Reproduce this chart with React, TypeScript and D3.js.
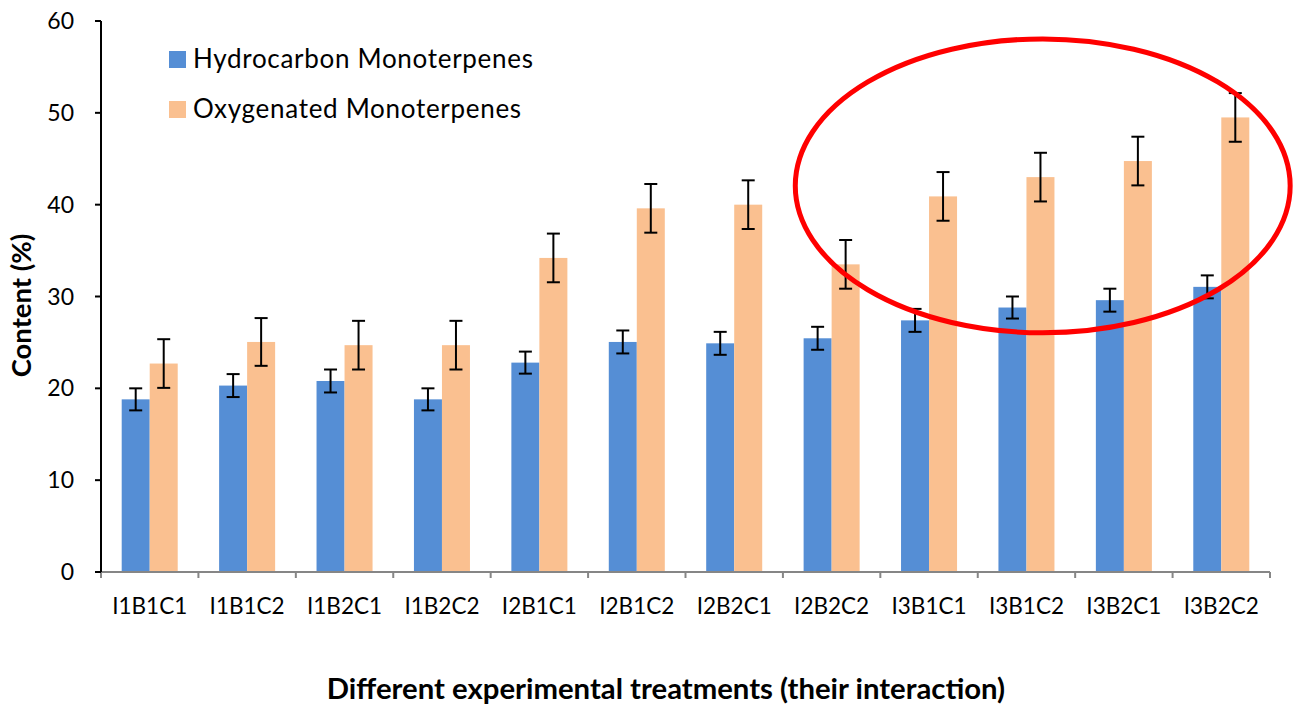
import React, { useEffect, useRef } from 'react';
import * as d3 from 'd3';

const categories = ['I1B1C1', 'I1B1C2', 'I1B2C1', 'I1B2C2', 'I2B1C1', 'I2B1C2', 'I2B2C1', 'I2B2C2', 'I3B1C1', 'I3B1C2', 'I3B2C1', 'I3B2C2'];
const seriesNames = ['Hydrocarbon Monoterpenes', 'Oxygenated Monoterpenes'];
const hydrocarbon = [18.8, 20.3, 20.8, 18.8, 22.8, 25.05, 24.9, 25.45, 27.4, 28.8, 29.6, 31.05];
const hydrocarbonErr = [1.2, 1.25, 1.25, 1.2, 1.2, 1.25, 1.25, 1.25, 1.25, 1.2, 1.25, 1.25];
const oxygenated = [22.7, 25.05, 24.7, 24.7, 34.2, 39.6, 40.0, 33.5, 40.9, 43.0, 44.75, 49.5];
const oxygenatedErr = [2.65, 2.6, 2.65, 2.65, 2.65, 2.65, 2.65, 2.65, 2.65, 2.65, 2.65, 2.65];
const yTicks = [0, 10, 20, 30, 40, 50, 60];
const colors = ['#558ED5', '#FAC090'];

const FONT = 'Lato, "Open Sans", sans-serif';

const App: React.FC = () => {
  const ref = useRef<SVGSVGElement | null>(null);

  useEffect(() => {
    document.body.style.margin = '0';
    if (!ref.current) return;
    const svg = d3.select(ref.current);
    svg.selectAll('*').remove();

    const left = 101, right = 1270, top = 21, bottom = 572;

    const x = d3.scaleBand<string>().domain(categories).range([left, right]).padding(0);
    const bw = x.bandwidth();
    const x1 = d3.scaleBand<string>().domain(seriesNames).range([bw * 0.2125, bw * 0.7875]).padding(0);
    const y = d3.scaleLinear().domain([0, 60]).range([bottom, top]);

    const rows = categories.map((c, i) => ({
      cat: c,
      vals: [
        { s: seriesNames[0], v: hydrocarbon[i], e: hydrocarbonErr[i], color: colors[0] },
        { s: seriesNames[1], v: oxygenated[i], e: oxygenatedErr[i], color: colors[1] },
      ],
    }));

    // bars
    const g = svg.append('g');
    const groups = g.selectAll('g.grp').data(rows).join('g')
      .attr('transform', d => `translate(${x(d.cat)},0)`);
    groups.selectAll('rect').data(d => d.vals).join('rect')
      .attr('x', d => x1(d.s)!)
      .attr('y', d => y(d.v))
      .attr('width', x1.bandwidth())
      .attr('height', d => y(0) - y(d.v))
      .attr('fill', d => d.color);

    // error bars
    const eb = groups.selectAll('g.err').data(d => d.vals).join('g')
      .attr('stroke', '#000').attr('stroke-width', 2);
    const cx = (d: any) => x1(d.s)! + x1.bandwidth() / 2;
    eb.append('line')
      .attr('x1', cx).attr('x2', cx)
      .attr('y1', d => y(d.v + d.e)).attr('y2', d => y(d.v - d.e));
    eb.append('line')
      .attr('x1', d => cx(d) - 6.5).attr('x2', d => cx(d) + 6.5)
      .attr('y1', d => y(d.v + d.e)).attr('y2', d => y(d.v + d.e));
    eb.append('line')
      .attr('x1', d => cx(d) - 6.5).attr('x2', d => cx(d) + 6.5)
      .attr('y1', d => y(d.v - d.e)).attr('y2', d => y(d.v - d.e));

    // x axis
    const xa = svg.append('g');
    xa.append('line').attr('x1', left).attr('x2', right).attr('y1', bottom).attr('y2', bottom)
      .attr('stroke', '#868686').attr('stroke-width', 2);
    const bounds = [...categories.map(c => x(c)!), right];
    xa.selectAll('line.tk').data(bounds).join('line').attr('class', 'tk')
      .attr('x1', d => d).attr('x2', d => d).attr('y1', bottom).attr('y2', bottom + 6)
      .attr('stroke', '#868686').attr('stroke-width', 2);
    xa.selectAll('text').data(categories).join('text')
      .attr('x', d => x(d)! + bw / 2).attr('y', 614)
      .attr('text-anchor', 'middle')
      .attr('font-family', FONT).attr('font-size', 22.5).attr('fill', '#000')
      .text(d => d);

    // y axis
    const ya = svg.append('g');
    ya.append('line').attr('x1', left).attr('x2', left).attr('y1', top).attr('y2', bottom)
      .attr('stroke', '#000').attr('stroke-width', 2);
    ya.selectAll('line.tk').data(yTicks).join('line').attr('class', 'tk')
      .attr('x1', left - 6).attr('x2', left).attr('y1', d => y(d)).attr('y2', d => y(d))
      .attr('stroke', '#000').attr('stroke-width', 2);
    ya.selectAll('text').data(yTicks).join('text')
      .attr('x', 74).attr('y', d => y(d) + 8)
      .attr('text-anchor', 'end')
      .attr('font-family', FONT).attr('font-size', 23).attr('fill', '#000')
      .text(d => d);

    // axis titles
    svg.append('text')
      .attr('transform', `translate(31,${(top + bottom) / 2 + 9}) rotate(-90)`)
      .attr('text-anchor', 'middle')
      .attr('font-family', FONT).attr('font-size', 27.5).attr('font-weight', 'bold')
      .text('Content (%)');
    svg.append('text')
      .attr('x', 666).attr('y', 699)
      .attr('text-anchor', 'middle')
      .attr('font-family', FONT).attr('font-size', 29.3).attr('font-weight', 'bold')
      .text('Different experimental treatments (their interaction)');

    // legend
    const lg = svg.append('g');
    seriesNames.forEach((s, i) => {
      const ly = 59.5 + i * 50;
      lg.append('rect').attr('x', 169).attr('y', ly - 8.5).attr('width', 17).attr('height', 17).attr('fill', colors[i]);
      lg.append('text').attr('x', 193).attr('y', ly + 8.5)
        .attr('font-family', FONT).attr('font-size', 26).attr('letter-spacing', 0.7).text(s);
    });

    // red highlight ellipse around I3 treatments
    const ex = x('I3B1C2')! + bw * 0.667;
    svg.append('ellipse')
      .attr('cx', ex).attr('cy', y(42.05))
      .attr('rx', bw * 2.54).attr('ry', y(26.05) - y(42.05))
      .attr('fill', 'none').attr('stroke', '#FF0000').attr('stroke-width', 5);
  }, []);

  return <svg ref={ref} width={1306} height={706} style={{ display: 'block', background: '#fff' }} />;
};

export default App;
